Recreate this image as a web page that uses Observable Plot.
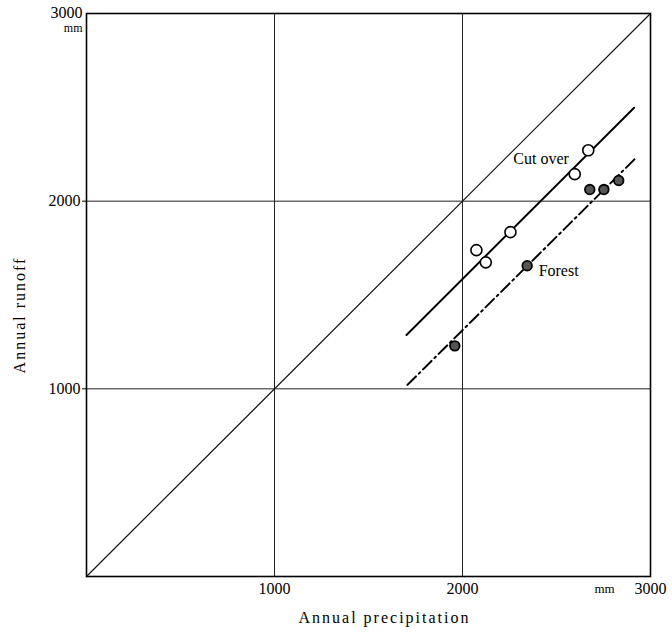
<!DOCTYPE html>
<html>
<head>
<meta charset="utf-8">
<script src="https://cdn.jsdelivr.net/npm/d3@7"></script>
<script src="https://cdn.jsdelivr.net/npm/@observablehq/plot@0.6"></script>
<style>
  body { margin: 0; background: #fff; }
  #chart svg { font-family: "Liberation Serif", "DejaVu Serif", serif; }
</style>
</head>
<body>
<div id="chart"></div>
<script>
// Observed points (annual precipitation, annual runoff), mm
const cutOverPrecip = [2669, 2597, 2255, 2074, 2124];
const cutOverRunoff = [2271, 2144, 1835, 1739, 1674];
const forestPrecip = [2677, 2752, 2831, 2344, 1959];
const forestRunoff = [2062, 2062, 2110, 1656, 1229];

// Fitted lines (endpoints)
const cutOverFitPrecip = [1702, 2913];
const cutOverFitRunoff = [1287, 2498];
const forestFitPrecip = [1707, 2926];
const forestFitRunoff = [1021, 2234];

// 1:1 line
const diagonal = [0, 3000];

// Grid and ticks
const gridValues = [1000, 2000];
const xTickValues = [1000, 2000, 3000];
const yTickValues = [1000, 2000];
const yTopValue = [3000];

const cutOver = cutOverPrecip.map((p, i) => ({p, r: cutOverRunoff[i]}));
const forest = forestPrecip.map((p, i) => ({p, r: forestRunoff[i]}));
const cutOverFit = cutOverFitPrecip.map((p, i) => ({p, r: cutOverFitRunoff[i]}));
const forestFit = forestFitPrecip.map((p, i) => ({p, r: forestFitRunoff[i]}));
const diag = diagonal.map(v => ({p: v, r: v}));

const chart = Plot.plot({
  width: 672,
  height: 636,
  marginLeft: 86,
  marginRight: 22,
  marginTop: 13,
  marginBottom: 60,
  x: {domain: [0, 3000], label: null},
  y: {domain: [0, 3000], label: null},
  style: {fontFamily: "'Liberation Serif', 'DejaVu Serif', serif", color: "#000", background: "#fff"},
  marks: [
    Plot.ruleX(gridValues, {stroke: "#222", strokeWidth: 1}),
    Plot.ruleY(gridValues, {stroke: "#222", strokeWidth: 1}),
    Plot.line(diag, {x: "p", y: "r", stroke: "#111", strokeWidth: 1.2}),
    Plot.line(cutOverFit, {x: "p", y: "r", stroke: "#000", strokeWidth: 2}),
    Plot.line(forestFit, {x: "p", y: "r", stroke: "#000", strokeWidth: 2, strokeDasharray: "12,4,2,4"}),
    Plot.dot(cutOver, {x: "p", y: "r", r: 5.5, fill: "#fff", stroke: "#000", strokeWidth: 1.6}),
    Plot.dot(forest, {x: "p", y: "r", r: 4.8, fill: "#555", stroke: "#000", strokeWidth: 1.8}),
    Plot.text(["Cut over"], {x: 2270, y: 2225, text: d => d, textAnchor: "start", fontSize: 16, fill: "#000"}),
    Plot.text(["Forest"], {x: 2405, y: 1626, text: d => d, textAnchor: "start", fontSize: 16, fill: "#000"}),
    Plot.frame({stroke: "#000", strokeWidth: 1.6}),
    Plot.axisX(xTickValues, {tickSize: 0, tickPadding: 6, fontSize: 16, label: null, tickFormat: d => String(d), fill: "#000"}),
    Plot.text(["mm"], {x: 3000, frameAnchor: "bottom", dy: 12, dx: -46, text: d => d, fontSize: 13, lineAnchor: "middle", fill: "#000"}),
    Plot.axisY(yTickValues, {tickSize: 4, tickPadding: 2, fontSize: 16, label: null, tickFormat: d => String(d), fill: "#000"}),
    Plot.text(yTopValue, {y: d => d, frameAnchor: "left", dx: -4, dy: -1, text: d => String(d), textAnchor: "end", fontSize: 16, fill: "#000"}),
    Plot.text(["mm"], {y: 3000, frameAnchor: "left", dx: -4, dy: 15, text: d => d, textAnchor: "end", fontSize: 12, fill: "#000"}),
    Plot.text(["Annual precipitation"], {frameAnchor: "bottom", dx: 16, dy: 46, text: d => d, textAnchor: "middle", fontSize: 16, fill: "#000"}),
    Plot.text(["Annual runoff"], {frameAnchor: "left", dx: -67, dy: 20, rotate: -90, text: d => d, textAnchor: "middle", fontSize: 16, fill: "#000"})
  ]
});
chart.querySelectorAll("text").forEach(t => {
  if (/Annual/.test(t.textContent)) t.setAttribute("letter-spacing", "2");
});
document.getElementById("chart").appendChild(chart);
</script>
</body>
</html>
